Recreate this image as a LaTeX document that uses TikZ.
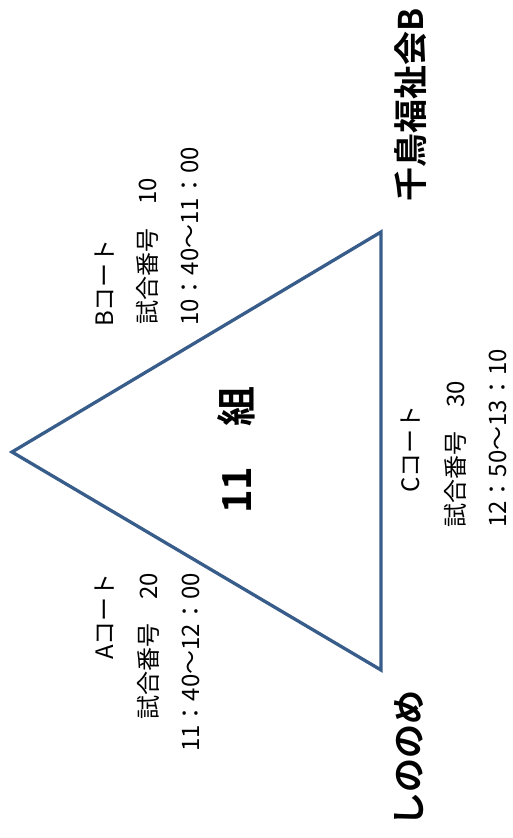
\documentclass[tikz,border=0pt]{standalone}
\usepackage{fontspec}
\newfontfamily\jpfont{Noto Sans CJK JP}[BoldFont={Noto Sans CJK JP Bold}]
\definecolor{edgeblue}{RGB}{56,93,138}
\usetikzlibrary{positioning}

\begin{document}
\begin{tikzpicture}[
    x=1pt, y=-1pt,
    court/.style={rotate=90, inner sep=0pt, font=\jpfont\fontsize{24}{24}\selectfont},
    team/.style={rotate=90, inner sep=0pt, font=\jpfont\bfseries\fontsize{34}{34}\selectfont},
    group/.style={rotate=90, inner sep=0pt, font=\jpfont\bfseries\fontsize{40}{40}\selectfont}
]
  \useasboundingbox (0,0) rectangle (512,838);

  % triangle of the three teams
  \coordinate (top) at (12,452);
  \coordinate (right) at (381,232);
  \coordinate (left) at (381,670);
  \draw[edgeblue, line width=3.3pt, line join=miter] (top) -- (right) -- (left) -- cycle;

  \node[group] (grp) at (236,450) {11　組};

  % team names
  \node[team] (tb) at (411,105) {千鳥福祉会B};
  \node[team] (tl) at (409,758) {しののめ};

  % B court
  \node[court, anchor=west] (b1) at (105,327) {Bコート};
  \node[court, anchor=west] (b2) at (147,325) {試合番号　10};
  \node[court, anchor=west] (b3) at (190,326) {10：40～11：00};

  % A court
  \node[court, anchor=east] (a1) at (105,573) {Aコート};
  \node[court, anchor=east] (a2) at (148,573) {試合番号　20};
  \node[court, anchor=east] (a3) at (191,573) {11：40～12：00};

  % C court
  \node[court, anchor=west] (c1) at (411,493) {Cコート};
  \node[court, anchor=west] (c2) at (455,528) {試合番号　30};
  \node[court, anchor=west] (c3) at (498,528) {12：50～13：10};
\end{tikzpicture}
\end{document}
